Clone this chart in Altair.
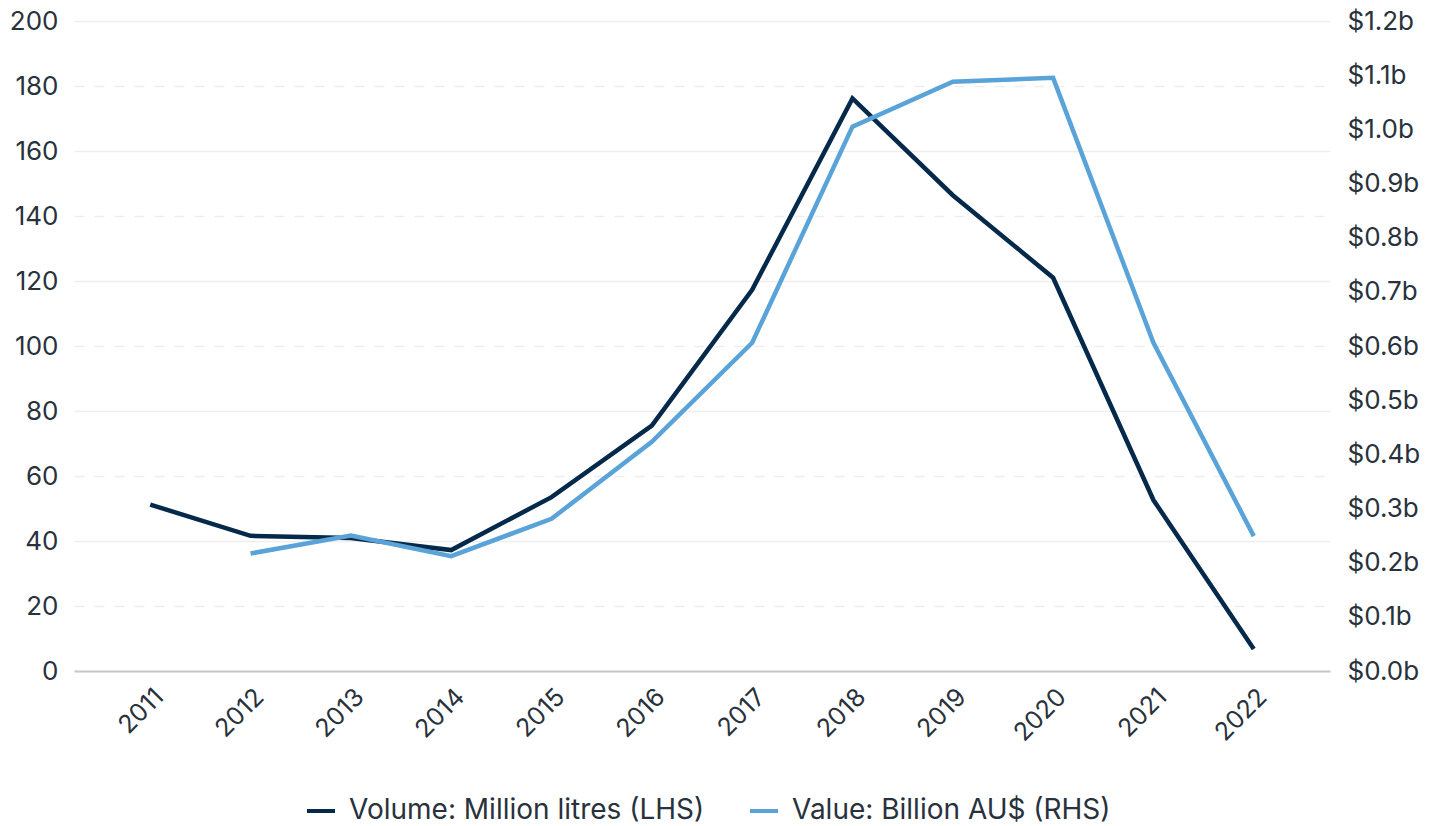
import altair as alt
import pandas as pd

years = [2011, 2012, 2013, 2014, 2015, 2016, 2017, 2018, 2019, 2020, 2021, 2022]
volume_ml = [51.2, 41.6, 40.9, 37.2, 53.5, 75.5, 117.3, 176.2, 146.4, 121.0, 52.6, 6.8]
value_years = [2012, 2013, 2014, 2015, 2016, 2017, 2018, 2019, 2020, 2021, 2022]
value_bn = [0.217, 0.250, 0.212, 0.281, 0.423, 0.606, 1.005, 1.088, 1.095, 0.606, 0.249]

VOL = "Volume: Million litres (LHS)"
VAL = "Value: Billion AU$ (RHS)"
left_ticks = [0, 20, 40, 60, 80, 100, 120, 140, 160, 180, 200]
right_ticks = [0.0, 0.1, 0.2, 0.3, 0.4, 0.5, 0.6, 0.7, 0.8, 0.9, 1.0, 1.1, 1.2]

df_vol = pd.DataFrame({"year": years, "v": volume_ml, "series": VOL})
df_val = pd.DataFrame({"year": value_years, "v": value_bn, "series": VAL})

FONT = "Inter"
TXT = "#28323c"

x = alt.X(
    "year:O",
    title=None,
    scale=alt.Scale(type="point", padding=0.76),
    axis=alt.Axis(
        labelAngle=-45, labelAlign="right", labelBaseline="top",
        labelFontSize=25, labelColor=TXT, labelFont=FONT,
        labelPadding=13, ticks=False, domain=False, grid=False,
    ),
)

color = alt.Color(
    "series:N",
    scale=alt.Scale(domain=[VOL, VAL], range=["#04294a", "#5aa3d8"]),
    legend=alt.Legend(
        title=None, orient="none", direction="horizontal",
        legendX=231, legendY=774,
        symbolType="stroke", symbolSize=784, symbolStrokeWidth=4,
        labelFontSize=28, labelFont=FONT, labelColor=TXT, labelLimit=0,
        labelOffset=12, columnPadding=37,
    ),
)

vol = alt.Chart(df_vol).mark_line(strokeWidth=4.5).encode(
    x=x,
    y=alt.Y(
        "v:Q", title=None,
        scale=alt.Scale(domain=[0, 200], nice=False),
        axis=alt.Axis(
            values=left_ticks, orient="left",
            labelFontSize=26, labelFont=FONT, labelColor=TXT, labelPadding=16,
            ticks=False, domain=False, grid=True,
            gridColor={"condition": {"test": "datum.value === 0", "value": "#c6c6c6"}, "value": "#eeeeee"},
            gridWidth={"condition": {"test": "datum.value === 0", "value": 2}, "value": 1.5},
            gridDash={"condition": {"test": "datum.value % 40 === 20", "value": [10, 10]}, "value": []},
        ),
    ),
    color=color,
)

val = alt.Chart(df_val).mark_line(strokeWidth=4.5).encode(
    x=x,
    y=alt.Y(
        "v:Q", title=None,
        scale=alt.Scale(domain=[0, 1.2], nice=False),
        axis=alt.Axis(
            values=right_ticks, orient="right",
            labelExpr="'$' + format(datum.value, '.1f') + 'b'",
            labelFontSize=26, labelFont=FONT, labelColor=TXT, labelPadding=17,
            ticks=False, domain=False, grid=False,
        ),
    ),
    color=color,
)

chart = (
    alt.layer(vol, val)
    .resolve_scale(y="independent")
    .properties(
        width=1256, height=650,
        background="white",
        autosize=alt.AutoSizeParams(type="none"),
        padding={"left": 66, "top": 13, "right": 95, "bottom": 155},
    )
    .configure_view(stroke=None)
)

chart.save("out.html", embed_options={"renderer": "svg", "actions": False})
